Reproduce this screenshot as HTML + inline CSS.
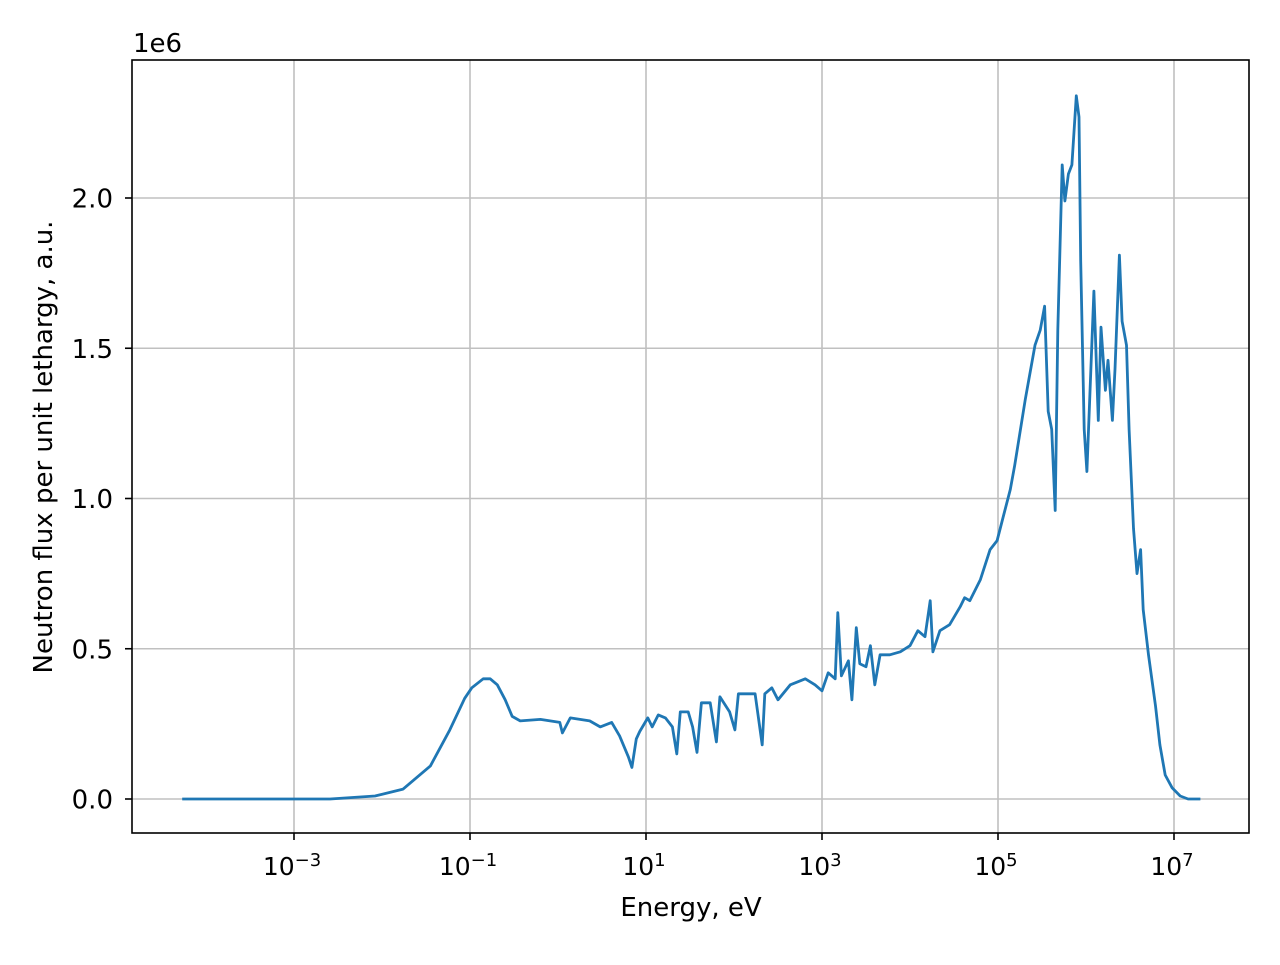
<!DOCTYPE html>
<html><head><meta charset="utf-8"><style>
html,body{margin:0;padding:0;background:#fff;}
svg text{font-family:"DejaVu Sans","Liberation Sans",sans-serif;fill:#000;}
</style></head><body>
<svg id="chart" width="1280" height="960" xmlns="http://www.w3.org/2000/svg">
<rect width="1280" height="960" fill="#fff"/>
<g id="grid"></g>
<g id="ticks"></g>
<path id="line" fill="none" stroke="#1f77b4" stroke-width="2.8" stroke-linejoin="round"/>
<rect x="132" y="60" width="1117" height="773" fill="none" stroke="#000" stroke-width="1.6"/>
<text x="133" y="52" font-size="26">1e6</text>
<text x="691" y="916" font-size="26" text-anchor="middle">Energy, eV</text>
<text transform="translate(52,447) rotate(-90)" font-size="26" text-anchor="middle">Neutron flux per unit lethargy, a.u.</text>
</svg>
<script>
const logEnergy=[-4.27,-2.59,-2.08,-1.76,-1.45,-1.23,-1.06,-0.98,-0.85,-0.77,-0.69,-0.6,-0.52,-0.43,-0.2,0.02,0.05,0.14,0.36,0.48,0.61,0.7,0.8,0.84,0.89,0.93,1.02,1.07,1.14,1.22,1.3,1.35,1.39,1.48,1.53,1.58,1.63,1.73,1.8,1.84,1.95,2.01,2.05,2.24,2.32,2.35,2.43,2.5,2.64,2.81,2.92,3.0,3.07,3.15,3.18,3.22,3.3,3.34,3.39,3.43,3.5,3.55,3.6,3.66,3.77,3.89,4.0,4.09,4.17,4.23,4.26,4.34,4.45,4.57,4.62,4.68,4.8,4.91,4.99,5.06,5.14,5.19,5.31,5.42,5.48,5.53,5.57,5.61,5.65,5.68,5.73,5.76,5.8,5.84,5.89,5.92,5.94,5.98,6.01,6.05,6.09,6.14,6.17,6.22,6.25,6.3,6.33,6.38,6.41,6.46,6.49,6.54,6.58,6.62,6.65,6.71,6.79,6.84,6.9,6.98,7.07,7.16,7.3];
const flux=[0,0,0.01,0.033,0.11,0.23,0.335,0.37,0.40,0.40,0.38,0.33,0.275,0.26,0.265,0.255,0.22,0.27,0.26,0.24,0.255,0.21,0.14,0.105,0.2,0.225,0.27,0.24,0.28,0.27,0.24,0.15,0.29,0.29,0.24,0.155,0.32,0.32,0.19,0.34,0.29,0.23,0.35,0.35,0.18,0.35,0.37,0.33,0.38,0.40,0.38,0.36,0.42,0.40,0.62,0.41,0.46,0.33,0.57,0.45,0.44,0.51,0.38,0.48,0.48,0.49,0.51,0.56,0.54,0.66,0.49,0.56,0.58,0.64,0.67,0.66,0.73,0.83,0.86,0.94,1.03,1.11,1.33,1.51,1.56,1.64,1.29,1.23,0.96,1.56,2.11,1.99,2.08,2.11,2.34,2.27,1.79,1.23,1.09,1.39,1.69,1.26,1.57,1.36,1.46,1.26,1.43,1.81,1.59,1.51,1.23,0.90,0.75,0.83,0.63,0.48,0.31,0.18,0.08,0.037,0.01,0,0];
const xTickExps=[-3,-1,1,3,5,7];
const yTicks=[0,0.5,1.0,1.5,2.0];
const yTickLabels=["0.0","0.5","1.0","1.5","2.0"];
const X=l=>294+(l+3)*88;
const Y=v=>799-v*300.5;
const NS="http://www.w3.org/2000/svg";
const grid=document.getElementById('grid'),ticks=document.getElementById('ticks');
function mk(tag,attrs,parent){const e=document.createElementNS(NS,tag);for(const k in attrs)e.setAttribute(k,attrs[k]);parent.appendChild(e);return e;}
xTickExps.forEach(p=>{const x=X(p);
 const g=mk('line',{x1:x,x2:x,y1:60,y2:833,stroke:'#c0c0c0','stroke-width':1.6},grid);
 
 
 mk('line',{x1:x,x2:x,y1:833,y2:840,stroke:'#000','stroke-width':1.6},ticks);
 const t=mk('text',{x:x-2,y:875,'font-size':25,'text-anchor':'middle'},ticks);
 
 
 t.textContent='10';
 const s=mk('tspan',{dy:-9,'font-size':18},t);s.textContent=String(p).replace('-','\u2212');
});
yTicks.forEach((v,i)=>{const y=Y(v);
 const g=mk('line',{x1:132,x2:1249,y1:y,y2:y,stroke:'#c0c0c0','stroke-width':1.6},grid);
 
 
 mk('line',{x1:125,x2:132,y1:y,y2:y,stroke:'#000','stroke-width':1.6},ticks);
 const t=mk('text',{x:113,y:y+9.5,'font-size':26,'text-anchor':'end'},ticks);
 
 
 t.textContent=yTickLabels[i];
});
document.getElementById('line').setAttribute('d',logEnergy.map((l,i)=>(i?'L':'M')+X(l).toFixed(1)+','+Y(flux[i]).toFixed(1)).join(''));
</script>
</body></html>
